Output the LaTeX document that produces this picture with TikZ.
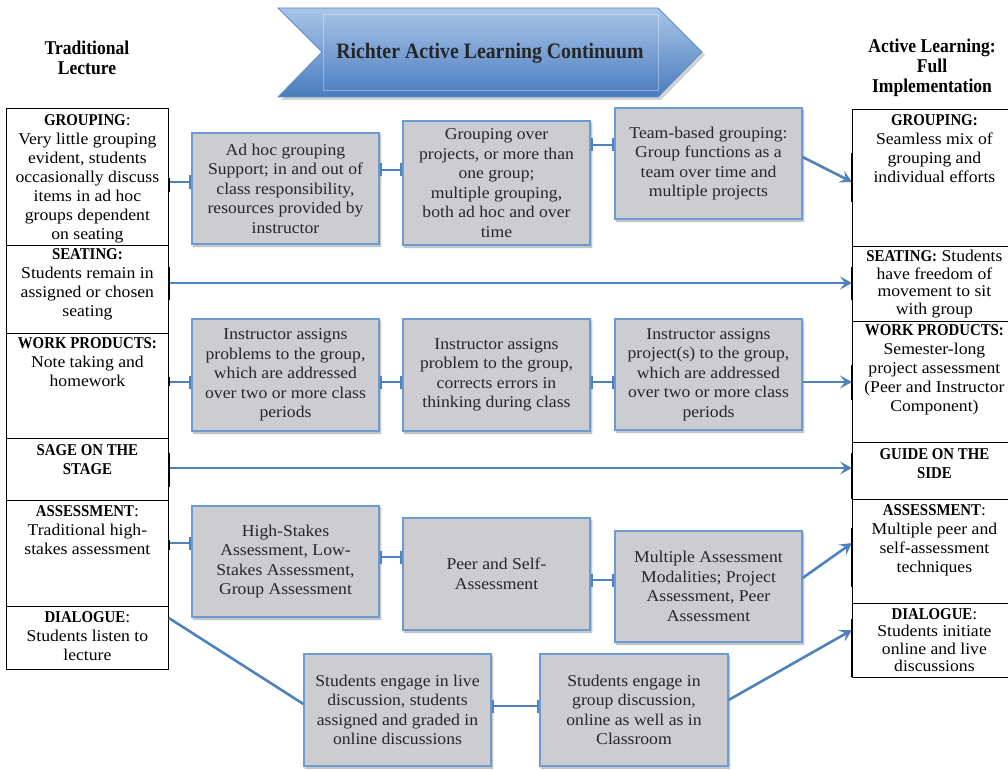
\documentclass[tikz,border=0pt]{standalone}
\usepackage{fontspec}
\setmainfont{Liberation Serif}[UprightFeatures={FakeStretch=1.07}, BoldFeatures={FakeStretch=0.9}]
\usetikzlibrary{arrows.meta,shadows.blur,calc}
\definecolor{conn}{HTML}{4F81BD}
\definecolor{boxborder}{HTML}{6C9AD3}
\definecolor{boxgray}{HTML}{CDCDD1}
\definecolor{bannertop}{HTML}{A9C5E9}
\definecolor{bannerbot}{HTML}{4A7CBE}
\definecolor{bannerline}{HTML}{5E8CC8}
\tikzset{
  colbox/.style={draw=black, line width=0.8pt, inner sep=0pt, anchor=north west},
  lbox/.style={colbox, minimum width=162pt},
  rbox/.style={colbox, minimum width=164pt},
  coltext/.style={align=center, inner sep=0pt, anchor=north, font=\fontsize{16.5}{19}\selectfont},
  tight/.style={font=\fontsize{16.5}{17.5}\selectfont},
  midbox/.style={draw=boxborder, line width=1.2pt, fill=boxgray, minimum width=187pt, minimum height=111pt,
    inner sep=0pt, align=center, font=\fontsize{16.5}{19.5}\selectfont, text=black!85,
    blur shadow={shadow xshift=1.5pt, shadow yshift=-2pt, shadow blur steps=5, shadow opacity=35}},
  link/.style={draw=conn, line width=2.6pt},
  barboth/.style={link, {Bar[width=13pt,line width=2pt]}-{Bar[width=13pt,line width=2pt]}},
  barend/.style={link, -{Bar[width=13pt,line width=2pt]}},
  arrowend/.style={link, -{Stealth[length=12pt,width=13pt,inset=5pt]}},
  tick/.style={draw=black, line width=2.6pt},
  header/.style={align=center, inner sep=0pt, font=\bfseries\fontsize{19.5}{20}\selectfont}
}
\begin{document}
\begin{tikzpicture}[x=1pt,y=-1pt]
\useasboundingbox (0,0) rectangle (1008,770);

% banner
\fill[black!35, opacity=0.5] (281,11) -- (661,11) -- (705,55) -- (661,100) -- (281,100) -- (325,55) -- cycle;
\shade[top color=bannertop, bottom color=bannerbot, draw=bannerline, line width=0.8pt]
  (278,8) -- (658,8) -- (702,52) -- (658,97) -- (278,97) -- (322,52) -- cycle;
\draw[white, opacity=0.35, line width=0.6pt] (323,14) rectangle (658,90);
\node[font=\bfseries\fontsize{22}{24}\selectfont, text=black!85] (title) at (490,53) {Richter Active Learning Continuum};

% headers
\node[header] (hl) at (87,58) {Traditional\\Lecture};
\node[header] (hr) at (932,68) {Active Learning:\\Full\\Implementation};

% left column
\node[lbox, minimum height=137pt] (L1) at (6,108) {};
\node[lbox, minimum height=88pt]  (L2) at (6,245) {};
\node[lbox, minimum height=105pt] (L3) at (6,333) {};
\node[lbox, minimum height=62pt]  (L4) at (6,438) {};
\node[lbox, minimum height=106pt] (L5) at (6,500) {};
\node[lbox, minimum height=63pt]  (L6) at (6,606) {};
\node[coltext] (L1t) at ($(L1.north)+(0,6)$) {\textbf{GROUPING}:\\Very little grouping\\evident, students\\occasionally discuss\\items in ad hoc\\groups dependent\\on seating};
\node[coltext] (L2t) at ($(L2.north)+(0,3)$) {\textbf{SEATING:}\\Students remain in\\assigned or chosen\\seating};
\node[coltext] (L3t) at ($(L3.north)+(0,4)$) {\textbf{WORK PRODUCTS:}\\Note taking and\\homework};
\node[coltext] (L4t) at ($(L4.north)+(0,6)$) {\textbf{SAGE ON THE}\\\textbf{STAGE}};
\node[coltext] (L5t) at ($(L5.north)+(0,5)$) {\textbf{ASSESSMENT}:\\Traditional high-\\stakes assessment};
\node[coltext] (L6t) at ($(L6.north)+(0,5)$) {\textbf{DIALOGUE}:\\Students listen to\\lecture};

% right column
\node[rbox, minimum height=137pt] (R1) at (852,109) {};
\node[rbox, minimum height=75pt]  (R2) at (852,246) {};
\node[rbox, minimum height=121pt] (R3) at (852,321) {};
\node[rbox, minimum height=57pt]  (R4) at (852,442) {};
\node[rbox, minimum height=104pt] (R5) at (852,499) {};
\node[rbox, minimum height=74pt]  (R6) at (852,603) {};
\node[coltext] (R1t) at ($(R1.north)+(0,5)$) {\textbf{GROUPING:}\\Seamless mix of\\grouping and\\individual efforts};
\node[coltext, tight] (R2t) at ($(R2.north)+(0,4)$) {\textbf{SEATING:} Students\\have freedom of\\movement to sit\\with group};
\node[coltext] (R3t) at ($(R3.north)+(0,3)$) {\textbf{WORK PRODUCTS:}\\Semester-long\\project assessment\\(Peer and Instructor\\Component)};
\node[coltext] (R4t) at ($(R4.north)+(0,6)$) {\textbf{GUIDE ON THE}\\\textbf{SIDE}};
\node[coltext] (R5t) at ($(R5.north)+(0,5)$) {\textbf{ASSESSMENT}:\\Multiple peer and\\self-assessment\\techniques};
\node[coltext, tight] (R6t) at ($(R6.north)+(0,5)$) {\textbf{DIALOGUE}:\\Students initiate\\online and live\\discussions};

% middle boxes
\node[midbox] (B1) at (285.5,188.5) {Ad hoc grouping\\Support; in and out of\\class responsibility,\\resources provided by\\instructor};
\node[midbox, minimum height=124pt] (B2) at (496.5,183) {Grouping over\\projects, or more than\\one group;\\multiple grouping,\\both ad hoc and over\\time};
\node[midbox] (B3) at (708.5,163.5) {Team-based grouping:\\Group functions as a\\team over time and\\multiple projects};

\node[midbox, minimum height=112pt] (C1) at (285.5,375) {Instructor assigns\\problems to the group,\\which are addressed\\over two or more class\\periods};
\node[midbox, minimum height=112pt] (C2) at (496.5,375) {Instructor assigns\\problem to the group,\\corrects errors in\\thinking during class};
\node[midbox] (C3) at (708.5,374.5) {Instructor assigns\\project(s) to the group,\\which are addressed\\over two or more class\\periods};

\node[midbox] (D1) at (285.5,561.5) {High-Stakes\\Assessment, Low-\\Stakes Assessment,\\Group Assessment};
\node[midbox, minimum height=112pt] (D2) at (496.5,574) {Peer and Self-\\Assessment};
\node[midbox] (D3) at (708.5,586.5) {Multiple Assessment\\Modalities; Project\\Assessment, Peer\\Assessment};

\node[midbox, minimum height=112pt] (E1) at (397.5,710) {Students engage in live\\discussion, students\\assigned and graded in\\online discussions};
\node[midbox, minimum height=112pt, minimum width=188pt] (E2) at (634,710) {Students engage in\\group discussion,\\online as well as in\\Classroom};

% connectors row 1
\draw[barend]  (L1.east |- 0,182) -- (B1.west |- 0,182);
\draw[barboth] (B1.east |- 0,170) -- (B2.west |- 0,170);
\draw[barboth] (B2.east |- 0,145) -- (B3.west |- 0,145);
\draw[arrowend] (B3.east |- 0,157) -- (R1.west |- 0,182);
% row 2
\draw[arrowend] (L2.east |- 0,283) -- (R2.west |- 0,283);
% row 3
\draw[barend]  (L3.east |- 0,382) -- (C1.west |- 0,382);
\draw[barboth] (C1.east |- 0,382) -- (C2.west |- 0,382);
\draw[barboth] (C2.east |- 0,382) -- (C3.west |- 0,382);
\draw[arrowend] (C3.east |- 0,382) -- (R3.west |- 0,382);
% row 4
\draw[arrowend] (L4.east |- 0,468) -- (R4.west |- 0,468);
% row 5
\draw[barend]  (L5.east |- 0,543) -- (D1.west |- 0,543);
\draw[barboth] (D1.east |- 0,557) -- (D2.west |- 0,557);
\draw[barboth] (D2.east |- 0,580) -- (D3.west |- 0,580);
\draw[arrowend] (D3.east |- 0,578) -- (R5.west |- 0,543);
% row 6
\coordinate (l6s) at ($(L6.north east)+(0,12)$);
\draw[link] (l6s) -- (E1.west |- 0,704);
\draw[barboth] (E1.east |- 0,706) -- (E2.west |- 0,706);
\draw[arrowend] (E2.east |- 0,700) -- (R6.west |- 0,630);

% black edge marks
\draw[tick] (L1.east |- 0,178) -- (L1.east |- 0,192);
\draw[tick] (L2.east |- 0,267) -- (L2.east |- 0,300);
\draw[tick] (L3.east |- 0,377) -- (L3.east |- 0,386);
\draw[tick] (L4.east |- 0,453) -- (L4.east |- 0,487);
\draw[tick] (L5.east |- 0,540) -- (L5.east |- 0,550);
\draw[tick] (R1.west |- 0,153) -- (R1.west |- 0,202);
\draw[tick] (R2.west |- 0,267) -- (R2.west |- 0,300);
\draw[tick] (R3.west |- 0,365) -- (R3.west |- 0,400);
\draw[tick] (R4.west |- 0,453) -- (R4.west |- 0,499);
\draw[tick] (R5.west |- 0,528) -- (R5.west |- 0,587);
\draw[tick] (R6.west |- 0,619) -- (R6.west |- 0,677);
\end{tikzpicture}
\end{document}
